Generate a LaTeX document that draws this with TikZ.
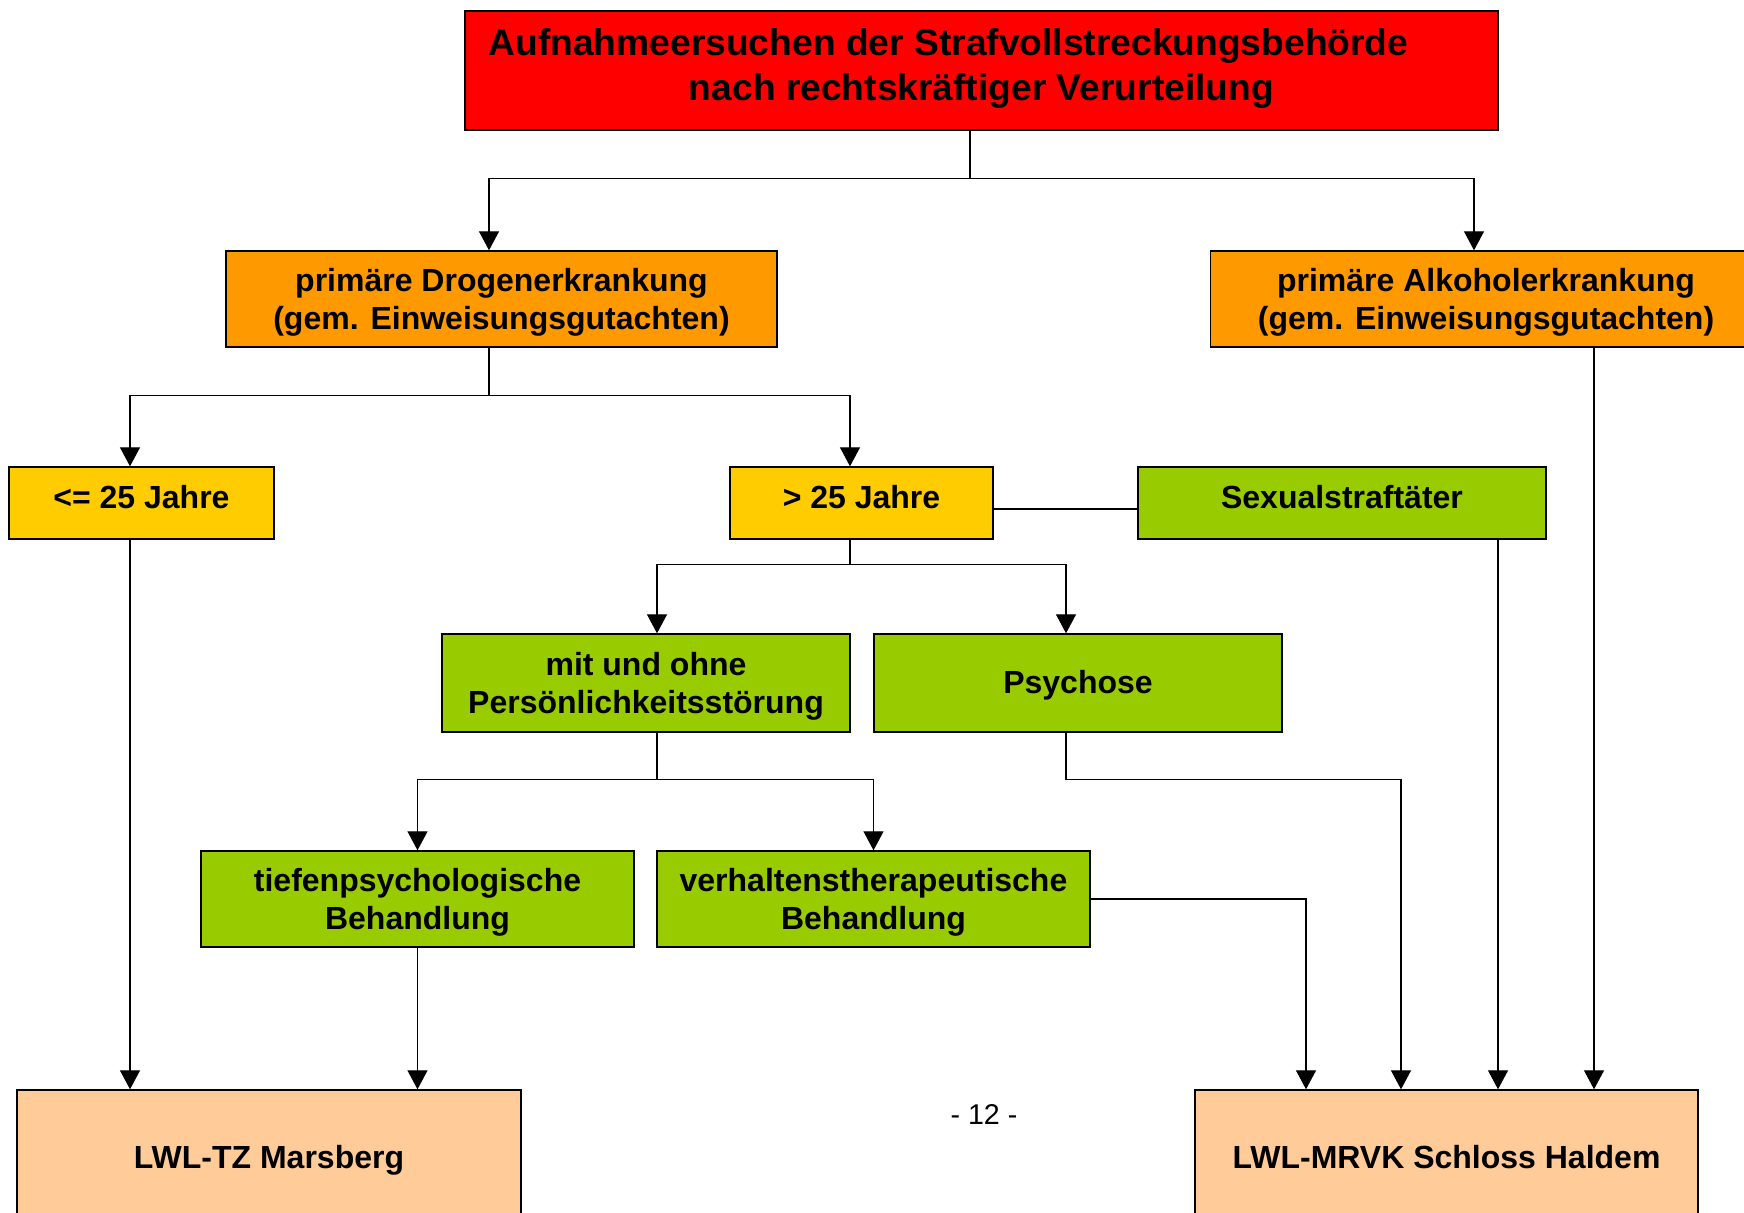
\documentclass[tikz,border=0pt]{standalone}
\usepackage{fontspec}
\setmainfont{Liberation Sans}
\usetikzlibrary{arrows.meta}
\definecolor{cred}{HTML}{FF0000}
\definecolor{corange}{HTML}{FF9900}
\definecolor{cyellow}{HTML}{FFCC00}
\definecolor{cgreen}{HTML}{99CC00}
\definecolor{cpeach}{HTML}{FFCC99}
\newcommand{\upbox}[2]{\raisebox{#1}[\height][0pt]{#2}}
\newcommand{\twol}[3]{\raisebox{#1}[\height][\depth]{\begin{tabular}{@{}c@{}}#2\\#3\end{tabular}}}
\begin{document}
\begin{tikzpicture}[x=0.5pt,y=-0.5pt,
  box/.style={draw=black, line width=0.7pt, rectangle, inner sep=0pt,
    font=\fontsize{16}{19}\selectfont\bfseries, align=center},
  conn/.style={line width=0.6pt, draw=black},
  arr/.style={conn, -{Triangle[length=9.5pt,width=10pt]}},
]
\useasboundingbox (0,0) rectangle (1744,1212);
\clip (0,0) rectangle (1744,1212);

\node[box, fill=cred, minimum width=516.5pt, minimum height=59.5pt,
  font=\fontsize{18.6}{22.5}\selectfont\bfseries] (top) at (981.5,70.5)
  {\twol{0.8pt}{Aufnahmeersuchen der Strafvollstreckungsbehörde\hspace*{33pt}}{nach rechtskräftiger Verurteilung}};

\node[box, fill=corange, minimum width=275.5pt, minimum height=48pt] (drog) at (501.5,299)
  {\twol{-1.9pt}{primäre Drogenerkrankung}{(gem. Einweisungsgutachten)}};
\node[box, fill=corange, minimum width=275.5pt, minimum height=48pt] (alk) at (1486,299)
  {\twol{-1.9pt}{primäre Alkoholerkrankung}{(gem. Einweisungsgutachten)}};

\node[box, fill=cyellow, minimum width=132.5pt, minimum height=36pt] (young) at (141.5,503)
  {\upbox{3pt}{<= 25 Jahre}};
\node[box, fill=cyellow, minimum width=131.5pt, minimum height=36pt] (old) at (861.5,503)
  {\upbox{3pt}{> 25 Jahre}};
\node[box, fill=cgreen, minimum width=204pt, minimum height=36pt] (sex) at (1342,503)
  {\upbox{3pt}{Sexualstraftäter}};

\node[box, fill=cgreen, minimum width=204pt, minimum height=49pt] (pers) at (646,683)
  {\twol{-1.9pt}{mit und ohne}{Persönlichkeitsstörung}};
\node[box, fill=cgreen, minimum width=204pt, minimum height=49pt] (psy) at (1078,683)
  {\upbox{0.6pt}{Psychose}};

\node[box, fill=cgreen, minimum width=216.5pt, minimum height=48pt] (tief) at (417.5,899)
  {\twol{-1.9pt}{tiefenpsychologische}{Behandlung}};
\node[box, fill=cgreen, minimum width=216.5pt, minimum height=48pt] (verh) at (873.5,899)
  {\twol{-1.9pt}{verhaltenstherapeutische}{Behandlung}};

\node[box, fill=cpeach, minimum width=252pt, minimum height=67pt] (tz) at (269,1157)
  {\upbox{0pt}{LWL-TZ Marsberg}};
\node[box, fill=cpeach, minimum width=251.5pt, minimum height=67pt] (mrvk) at (1446.5,1157)
  {\upbox{0pt}{LWL-MRVK Schloss Haldem}};

\node[font=\fontsize{14.3}{17}\selectfont, inner sep=0pt] (page) at (984,1114) {- 12 -};

% connectors
\draw[arr] ([xshift=-5.75pt]top.south) -- ++(0,48) -| ([xshift=-6.25pt]drog.north);
\draw[arr] ([xshift=-5.75pt]top.south) -- ++(0,48) -| ([xshift=-6pt]alk.north);

\draw[arr] ([xshift=-6.25pt]drog.south) -- ++(0,48) -| ([xshift=-5.75pt]young.north);
\draw[arr] ([xshift=-6.25pt]drog.south) -- ++(0,48) -| ([xshift=-5.75pt]old.north);

\draw[conn] ([yshift=-3pt]old.east) -- ([yshift=-3pt]sex.west);

\draw[arr] ([xshift=-5.75pt]old.south) -- ++(0,25) -| ([xshift=5.5pt]pers.north);
\draw[arr] ([xshift=-5.75pt]old.south) -- ++(0,25) -| ([xshift=-6pt]psy.north);

\draw[arr] ([xshift=5.5pt]pers.south) -- ++(0,47) -| (tief.north);
\draw[arr] ([xshift=5.5pt]pers.south) -- ++(0,47) -| (verh.north);

\draw[arr] ([xshift=-6pt]psy.south) -- ++(0,47) -| ([xshift=-22.75pt]mrvk.north);
\draw[arr] (verh.east) -| ([xshift=-70.25pt]mrvk.north);
\draw[arr] ([xshift=78pt]sex.south) -- ([xshift=25.75pt]mrvk.north);
\draw[arr] ([xshift=54pt]alk.south) -- ([xshift=73.75pt]mrvk.north);

\draw[arr] ([xshift=-5.75pt]young.south) -- ([xshift=-69.5pt]tz.north);
\draw[arr] (tief.south) -- ([xshift=74.25pt]tz.north);
\end{tikzpicture}
\end{document}
